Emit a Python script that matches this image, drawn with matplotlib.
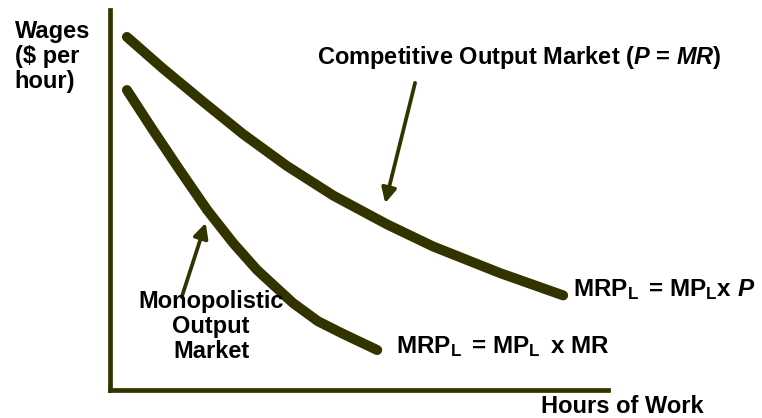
import matplotlib
matplotlib.use("Agg")
import matplotlib.pyplot as plt

# styling: bold Arial-like text, bold italic for P / MR in math
plt.rcParams['font.family'] = ['Liberation Sans', 'DejaVu Sans']
plt.rcParams['font.weight'] = 'bold'
plt.rcParams['mathtext.fontset'] = 'custom'
plt.rcParams['mathtext.rm'] = 'Liberation Sans:bold'
plt.rcParams['mathtext.bf'] = 'Liberation Sans:bold'
plt.rcParams['mathtext.it'] = 'Liberation Sans:bold:italic'

# curve readings (hours, wages)
comp_hours = [0.35, 1.07, 1.88, 2.68, 3.56, 4.49, 5.57, 6.49, 7.83, 9.10]
comp_wages = [9.29, 8.46, 7.58, 6.73, 5.89, 5.11, 4.35, 3.77, 3.07, 2.48]

mono_hours = [0.35, 0.87, 1.41, 1.96, 2.48, 2.96, 3.68, 4.18, 4.68, 5.37]
mono_wages = [7.89, 6.84, 5.78, 4.73, 3.86, 3.15, 2.28, 1.80, 1.47, 1.04]

olive = "#333300"

fig = plt.figure(figsize=(7.62, 4.18), dpi=100)
ax = fig.add_axes([109.5 / 762, 28.5 / 418, 498.5 / 762, 379.5 / 418])
ax.set_xlim(0, 10)
ax.set_ylim(0, 10)

ax.plot(comp_hours, comp_wages, color=olive, lw=7.2, solid_capstyle='round',
        solid_joinstyle='round')
ax.plot(mono_hours, mono_wages, color=olive, lw=7.2, solid_capstyle='round',
        solid_joinstyle='round')

# axes: only left and bottom
for s in ['top', 'right']:
    ax.spines[s].set_visible(False)
for s in ['left', 'bottom']:
    ax.spines[s].set_color(olive)
    ax.spines[s].set_linewidth(3.4)
ax.set_xticks([])
ax.set_yticks([])
ax.patch.set_alpha(0)

# arrows
arrow = dict(arrowstyle='-|>', color=olive, lw=2.7, mutation_scale=22,
             shrinkA=0, shrinkB=0)
ax.annotate("", xy=(5.53, 4.91), xytext=(6.13, 8.08), arrowprops=arrow)
ax.annotate("", xy=(1.93, 4.39), xytext=(1.45, 2.44), arrowprops=arrow)

fs = 17
ax.text(-1.9, 9.74, "Wages\n($ per\nhour)", ha='left', va='top',
        fontsize=fs, linespacing=1.12, clip_on=False)
ax.text(8.22, 8.76, "Competitive Output Market ($P$ = $MR$)", ha='center',
        va='center', fontsize=fs, clip_on=False)
ax.text(2.04, 1.66, "Monopolistic\nOutput\nMarket", ha='center', va='center',
        fontsize=fs, linespacing=1.12, clip_on=False)
ax.text(5.74, 1.13, r"MRP$_\mathrm{L}\,$ = MP$_\mathrm{L}\,$ x MR",
        ha='left', va='center', fontsize=fs + 0.5, clip_on=False)
ax.text(9.3, 2.63, r"MRP$_\mathrm{L}\,$ = MP$_\mathrm{L}$x $P$",
        ha='left', va='center', fontsize=fs + 0.5, clip_on=False)
ax.text(8.66, -0.46, "Hours of Work", ha='left', va='center',
        fontsize=fs, clip_on=False)

fig.savefig("out.png", dpi=100)
